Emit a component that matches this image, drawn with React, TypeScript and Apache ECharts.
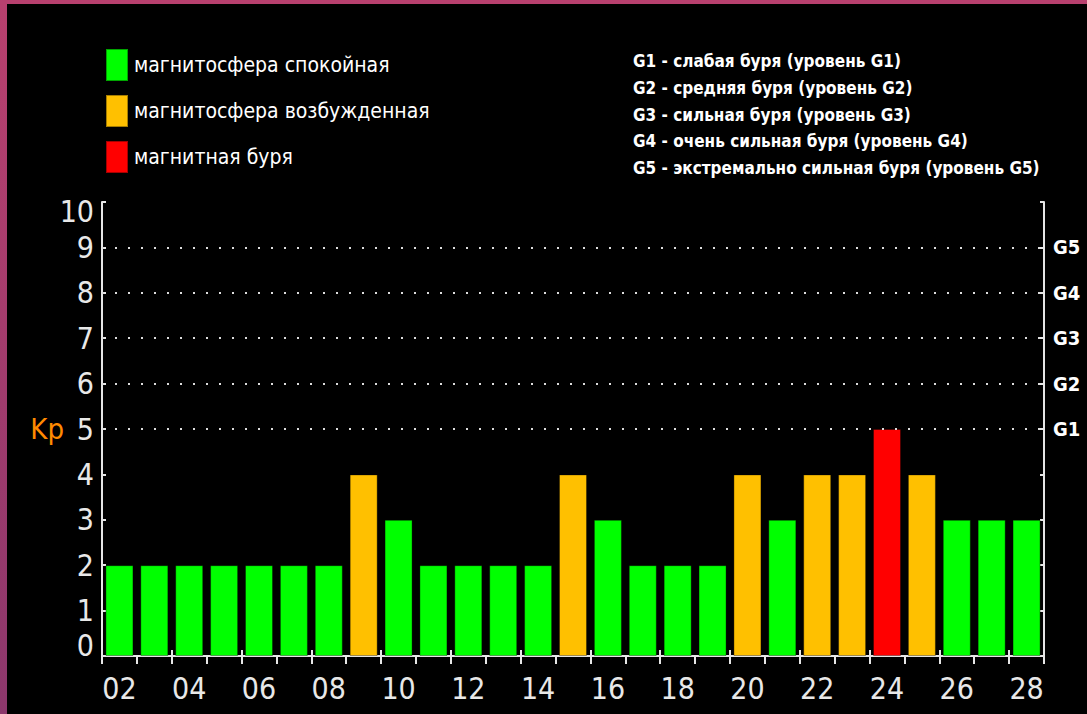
import React, { useEffect, useRef } from "react";
import * as echarts from "echarts";

const days = ["02","03","04","05","06","07","08","09","10","11","12","13","14","15","16","17","18","19","20","21","22","23","24","25","26","27","28"];
const kpValues = [2,2,2,2,2,2,2,4,3,2,2,2,2,4,3,2,2,2,4,3,4,4,5,4,3,3,3];
const kpStatus = ["q","q","q","q","q","q","q","a","q","q","q","q","q","a","q","q","q","q","a","q","a","a","s","a","q","q","q"];
const statusKeys = ["q", "a", "s"];
const statusNames = ["магнитосфера спокойная", "магнитосфера возбужденная", "магнитная буря"];
const statusColors = ["#00ff00", "#ffc000", "#ff0000"];
const stormLevels = [5, 6, 7, 8, 9];
const stormLabels = ["G1", "G2", "G3", "G4", "G5"];
const stormDescriptions = [
  "G1 - слабая буря (уровень G1)",
  "G2 - средняя буря (уровень G2)",
  "G3 - сильная буря (уровень G3)",
  "G4 - очень сильная буря (уровень G4)",
  "G5 - экстремально сильная буря (уровень G5)",
];

const FONT = '"DejaVu Sans Condensed", "Liberation Sans Narrow", sans-serif';
const AXIS_COLOR = "#e6e6e6";

export default function App() {
  const ref = useRef<HTMLDivElement>(null);

  useEffect(() => {
    if (!ref.current) return;
    const chart = echarts.init(ref.current, null, { renderer: "svg" });

    const series: any[] = statusKeys.map((key, i) => ({
      name: statusNames[i],
      type: "bar",
      stack: "kp",
      barWidth: 28,
      xAxisIndex: 0,
      yAxisIndex: 0,
      itemStyle: { color: statusColors[i], borderColor: "rgba(0,0,0,0.35)", borderWidth: 1 },
      data: kpValues.map((v, j) => (kpStatus[j] === key ? v : "-")),
    }));
    series[0].markLine = {
      silent: true,
      symbol: ["none", "none"],
      label: { show: false },
      lineStyle: { color: "#dddddd", type: [2, 11], width: 2 },
      data: stormLevels.map((v) => ({ yAxis: v })),
    };

    chart.setOption({
      animation: false,
      backgroundColor: "transparent",
      textStyle: { fontFamily: FONT },
      legend: {
        orient: "vertical",
        left: 105,
        top: 48,
        padding: 0,
        itemWidth: 22,
        itemHeight: 32,
        itemGap: 12,
        icon: "rect",
        selectedMode: false,
        textStyle: { color: "#ffffff", fontSize: 21, fontFamily: FONT, padding: [0, 0, 0, 1] },
        data: statusNames,
      },
      graphic: [
        {
          type: "text",
          left: 633,
          top: 48,
          style: {
            text: stormDescriptions.join("\n"),
            fill: "#ffffff",
            font: `bold 17px ${FONT}`,
            lineHeight: 26.7,
          },
        },
      ],
      grid: { left: 102, right: 43, top: 202, bottom: 58, containLabel: false },
      xAxis: [
        {
          type: "category",
          data: days,
          position: "bottom",
          axisLine: { show: true, lineStyle: { color: AXIS_COLOR, width: 2 } },
          axisTick: { show: true, inside: true, length: 6, lineStyle: { color: AXIS_COLOR, width: 2 } },
          axisLabel: { color: "#e8e8e8", fontSize: 30, fontFamily: FONT, interval: 1, margin: 17 },
        },
        {
          type: "category",
          data: days,
          position: "top",
          axisLine: { show: true, lineStyle: { color: AXIS_COLOR, width: 2 } },
          axisTick: { show: true, inside: true, length: 8, lineStyle: { color: AXIS_COLOR, width: 2 } },
          axisLabel: { show: false },
        },
      ],
      yAxis: [
        {
          type: "value",
          min: 0,
          max: 10,
          interval: 1,
          position: "left",
          name: "Kp",
          nameLocation: "middle",
          nameRotate: 0,
          nameGap: 38,
          nameMoveOverlap: false,
          nameTextStyle: { color: "#ff8a00", fontSize: 29, fontFamily: FONT },
          splitLine: { show: false },
          axisLine: { show: true, lineStyle: { color: AXIS_COLOR, width: 2 } },
          axisTick: { show: true, inside: true, length: 4, lineStyle: { color: AXIS_COLOR, width: 2 } },
          axisLabel: {
            color: "#e8e8e8",
            fontSize: 30,
            fontFamily: FONT,
            margin: 8,
            formatter: (v: number) => (v === 0 ? "{lo|0}" : v === 10 ? "{hi|10}" : String(v)),
            rich: {
              lo: { fontSize: 30, fontFamily: FONT, color: "#e8e8e8", padding: [0, 0, 22, 0] },
              hi: { fontSize: 30, fontFamily: FONT, color: "#e8e8e8", padding: [18, 0, 0, 0] },
            },
          },
        },
        {
          type: "value",
          min: 0,
          max: 10,
          interval: 1,
          position: "right",
          splitLine: { show: false },
          axisLine: { show: true, lineStyle: { color: AXIS_COLOR, width: 2 } },
          axisTick: { show: true, inside: true, length: 4, lineStyle: { color: AXIS_COLOR, width: 2 } },
          axisLabel: {
            color: "#ffffff",
            fontSize: 20,
            fontWeight: "bold",
            fontFamily: FONT,
            margin: 9,
            formatter: (v: number) => {
              const idx = stormLevels.indexOf(v);
              return idx >= 0 ? stormLabels[idx] : "";
            },
          },
        },
      ],
      series,
    });

    return () => chart.dispose();
  }, []);

  return (
    <div
      style={{
        position: "fixed",
        left: 0,
        top: 0,
        width: 1087,
        height: 714,
        background: "linear-gradient(180deg, #b8406e 0%, #8c376c 100%)",
        overflow: "hidden",
      }}
    >
      <div style={{ position: "absolute", left: 7, top: 4, right: 0, bottom: 0, background: "#000" }} />
      <div ref={ref} style={{ position: "absolute", left: 0, top: 0, width: 1087, height: 714 }} />
    </div>
  );
}
